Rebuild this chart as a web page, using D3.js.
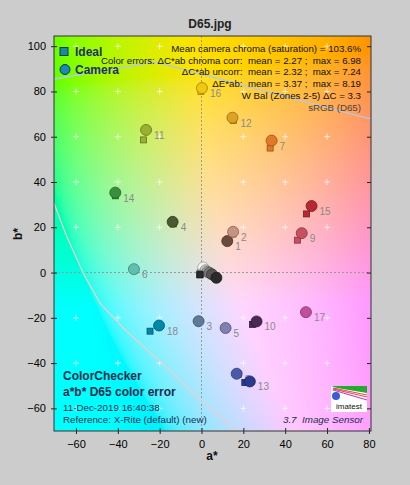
<!DOCTYPE html>
<html>
<head>
<meta charset="utf-8">
<script src="https://cdn.jsdelivr.net/npm/d3@7"></script>
<style>
body{margin:0;background:#cccccc;}
svg{display:block;font-family:"Liberation Sans",Arial,sans-serif;}
text{white-space:pre;}
</style>
</head>
<body>
<svg id="chart" width="410" height="485"></svg>
<script>
// ColorChecker patches 1..24
const patchIds = d3.range(1, 25);
const idealA = [13, 15, -1.5, -13.5, 11, -32, 32.8, 17.5, 45.9, 24.4, -27.7, 15.3,
  20.7, -41.2, 50.2, -0.3, 49.8, -24.6, -0.5, -0.6, -0.7, -0.8, -0.8, -0.7];
const idealB = [14, 17, -22, 21.5, -24.5, 1, 55, -45, 14.3, -22.9, 58.6, 67.2,
  -48.6, 33.9, 25.9, 80, -17.8, -25.9, 0.2, -0.2, -0.5, -0.8, -1.0, -1.0];
const cameraA = [12.3, 15.1, -1.4, -13.8, 11.5, -32.3, 33.5, 16.8, 47.9, 26.3, -26.5, 14.8,
  23.1, -41.2, 52.6, 0.2, 49.9, -20.3, 0.8, 1.9, 2.8, 3.8, 5.0, 7.1];
const cameraB = [13.9, 18.0, -21.5, 22.4, -24.5, 1.5, 58.3, -44.7, 17.4, -21.6, 63, 68.4,
  -48.1, 35.3, 29.4, 81.5, -17.5, -23.4, 2.2, 1.0, 0.3, -0.1, -0.8, -2.3];
const patchColors = ["#6b4a3e", "#c49580", "#5f7a99", "#4a5a30", "#8080b0", "#60c0b0",
  "#e07a28", "#4a5aaa", "#c85060", "#4a2a55", "#9ab030", "#e0a020",
  "#2a3a90", "#3a903a", "#b82830", "#f0c810", "#c0509a", "#0088a8",
  "#f4f4f4", "#c8c8c8", "#a0a0a0", "#7a7a7a", "#555555", "#2a2a2a"];

const xTicks = [-60, -40, -20, 0, 20, 40, 60, 80];
const yTicks = [-60, -40, -20, 0, 20, 40, 60, 80, 100];
const gridA = [-60, -40, -20, 0, 20, 40, 60];
const gridB = [-60, -40, -20, 0, 20, 40, 60, 80, 100];

// sRGB gamut outline
const gamutTopA = [-70.5, -22, 80, 81];
const gamutTopB = [85.5, 93, 68, 68.5];
const gamutLowA = [-70.5, -64.4, -56.5, -48.5, -36.6, -17.5, -0.8, 17.4];
const gamutLowB = [30.6, 15.9, -0.3, -13.5, -25.3, -41.2, -56.2, -70];

const infoLines = [
  "Mean camera chroma (saturation) = 103.6%",
  "Color errors: \u0394C*ab chroma corr:  mean = 2.27 ;  max = 6.98",
  "\u0394C*ab uncorr:  mean = 2.32 ;  max = 7.24",
  "\u0394E*ab:  mean = 3.37 ;  max = 8.19",
  "W Bal (Zones 2-5) \u0394C = 3.3",
  "sRGB (D65)"
];
const noteLines = ["11-Dec-2019 16:40:38", "Reference: X-Rite (default) (new)"];

const svg = d3.select("#chart");
const pLeft = 54, pRight = 371, pTop = 36, pBottom = 431;
const x = d3.scaleLinear().domain([-70.5, 81]).range([pLeft, pRight]);
const y = d3.scaleLinear().domain([-70, 104.5]).range([pBottom, pTop]);

// background a*b* colours
const w = pRight - pLeft, h = pBottom - pTop;
const canvas = document.createElement("canvas");
canvas.width = w; canvas.height = h;
const ctx = canvas.getContext("2d");
const img = ctx.createImageData(w, h);
for (let j = 0; j < h; j++) {
  for (let i = 0; i < w; i++) {
    const c = d3.rgb(d3.lab(90, x.invert(pLeft + i + 0.5), y.invert(pTop + j + 0.5)));
    const k = (j * w + i) * 4;
    img.data[k] = c.r; img.data[k + 1] = c.g; img.data[k + 2] = c.b; img.data[k + 3] = 255;
  }
}
ctx.putImageData(img, 0, 0);
svg.append("image")
  .attr("x", pLeft).attr("y", pTop).attr("width", w).attr("height", h)
  .attr("preserveAspectRatio", "none")
  .attr("href", canvas.toDataURL());

// grid crosses
gridA.forEach(a => gridB.forEach(b => {
  if (a === 0 || b === 0) return;
  svg.append("path")
    .attr("d", `M${x(a) - 3},${y(b)}h6M${x(a)},${y(b) - 3}v6`)
    .attr("stroke", "#ffffff").attr("stroke-opacity", 0.7).attr("stroke-width", 1);
}));

// zero lines
svg.append("line").attr("x1", x(0)).attr("x2", x(0)).attr("y1", pTop).attr("y2", pBottom)
  .attr("stroke", "#999").attr("stroke-dasharray", "2,2");
svg.append("line").attr("x1", pLeft).attr("x2", pRight).attr("y1", y(0)).attr("y2", y(0))
  .attr("stroke", "#999").attr("stroke-dasharray", "2,2");

// gamut
const line = d3.line().x(d => x(d[0])).y(d => y(d[1]));
svg.append("path").attr("d", line(d3.zip(gamutTopA, gamutTopB)))
  .attr("fill", "none").attr("stroke", "#b8c8dc").attr("stroke-width", 1.3);
svg.append("path").attr("d", line(d3.zip(gamutLowA, gamutLowB)))
  .attr("fill", "none").attr("stroke", "#ead0cc").attr("stroke-width", 1.3);

// axes
const xAxis = d3.axisBottom(x).tickValues(xTicks).tickSizeInner(3).tickSizeOuter(0).tickPadding(6);
const gx = svg.append("g").attr("transform", `translate(0,${pBottom})`).call(xAxis);
gx.select(".domain").remove();
gx.selectAll(".tick line").attr("y1", -3).attr("stroke", "#222");
gx.selectAll("text").attr("font-size", 11).attr("fill", "#000");
gx.attr("font-family", null);

const yAxis = d3.axisLeft(y).tickValues(yTicks).tickSizeInner(3).tickSizeOuter(0).tickPadding(5);
const gy = svg.append("g").attr("transform", `translate(${pLeft},0)`).call(yAxis);
gy.select(".domain").remove();
gy.selectAll(".tick line").attr("x1", 3).attr("stroke", "#222");
gy.selectAll("text").attr("font-size", 11).attr("fill", "#000");
gy.attr("font-family", null);

const gyr = svg.append("g").attr("transform", `translate(${pRight},0)`)
  .call(d3.axisLeft(y).tickValues(yTicks).tickSizeInner(4).tickSizeOuter(0).tickFormat(""));
gyr.select(".domain").remove();
gyr.selectAll(".tick line").attr("stroke", "#222");

svg.append("rect").attr("x", pLeft).attr("y", pTop).attr("width", w).attr("height", h)
  .attr("fill", "none").attr("stroke", "#333").attr("stroke-width", 1);

// labels for patches 1..18
const chromatic = patchIds.filter(d => d <= 18);
svg.append("g").selectAll("text").data(chromatic).join("text")
  .attr("x", d => x(cameraA[d - 1]) + 8)
  .attr("y", d => y(cameraB[d - 1]) + 9)
  .attr("font-size", 10).attr("fill", "#8a8a8a")
  .text(d => d);

// markers
const marks = svg.append("g");
patchIds.forEach(d => {
  const c = patchColors[d - 1];
  const edge = d3.color(c).darker(1.2);
  marks.append("rect")
    .attr("x", x(idealA[d - 1]) - 3).attr("y", y(idealB[d - 1]) - 3)
    .attr("width", 6).attr("height", 6)
    .attr("fill", c).attr("stroke", edge).attr("stroke-width", 0.8);
  marks.append("circle")
    .attr("cx", x(cameraA[d - 1])).attr("cy", y(cameraB[d - 1])).attr("r", 5.5)
    .attr("fill", c).attr("stroke", edge).attr("stroke-width", 0.8);
});

// info text
svg.append("g").selectAll("text").data(infoLines).join("text")
  .attr("x", 361).attr("y", (d, i) => 52 + i * 11.7)
  .attr("text-anchor", "end").attr("font-size", 9.7)
  .attr("fill", (d, i) => i === infoLines.length - 1 ? "#444" : "#111")
  .text(d => d);

// legend
svg.append("rect").attr("x", 60).attr("y", 47.5).attr("width", 8).attr("height", 8)
  .attr("fill", "#1a88a8").attr("stroke", "#0c3a50");
svg.append("circle").attr("cx", 65).attr("cy", 69.5).attr("r", 5)
  .attr("fill", "#1a88b8").attr("stroke", "#0c3a50");
svg.append("text").attr("x", 75).attr("y", 56).attr("font-size", 12).attr("font-weight", "bold")
  .attr("fill", "#1c3260").text("Ideal");
svg.append("text").attr("x", 75).attr("y", 74).attr("font-size", 12).attr("font-weight", "bold")
  .attr("fill", "#1c3260").text("Camera");

// bottom-left block
svg.append("text").attr("x", 63).attr("y", 380).attr("font-size", 12).attr("font-weight", "bold")
  .attr("fill", "#1c2c4c").text("ColorChecker");
svg.append("text").attr("x", 63).attr("y", 396).attr("font-size", 12).attr("font-weight", "bold")
  .attr("fill", "#1c2c4c").text("a*b* D65 color error");
svg.append("g").selectAll("text").data(noteLines).join("text")
  .attr("x", 63).attr("y", (d, i) => 411 + i * 12)
  .attr("font-size", 9.8).attr("fill", "#1c2c4c").text(d => d);
svg.append("text").attr("x", 363).attr("y", 423).attr("text-anchor", "end")
  .attr("font-size", 9.8).attr("font-style", "italic").attr("fill", "#1c2c4c")
  .text("3.7  Image Sensor");

// imatest logo
const logo = svg.append("g").attr("transform", "translate(331,386)");
logo.append("rect").attr("width", 36).attr("height", 26).attr("fill", "#fff");
logo.append("path").attr("d", "M0,0L36,0L36,7L6,2Z").attr("fill", "#22aa33");
logo.append("path").attr("d", "M2,2L36,9M2,3L36,11").attr("stroke", "#e05050").attr("stroke-width", 1.2);
logo.append("path").attr("d", "M2,4L36,14").attr("stroke", "#c040c0").attr("stroke-width", 1.2);
logo.append("circle").attr("cx", 5).attr("cy", 10).attr("r", 4).attr("fill", "#3a5ad8");
logo.append("text").attr("x", 18).attr("y", 23).attr("text-anchor", "middle")
  .attr("font-size", 8).attr("fill", "#111").text("imatest");

// titles
svg.append("text").attr("x", 210).attr("y", 28).attr("text-anchor", "middle")
  .attr("font-size", 12).attr("font-weight", "bold").attr("fill", "#222").text("D65.jpg");
svg.append("text").attr("x", x(5)).attr("y", 460).attr("text-anchor", "middle")
  .attr("font-size", 12).attr("font-weight", "bold").attr("fill", "#111").text("a*");
svg.append("text").attr("transform", `translate(22,${y(17)}) rotate(-90)`).attr("text-anchor", "middle")
  .attr("font-size", 12).attr("font-weight", "bold").attr("fill", "#111").text("b*");
</script>
</body>
</html>
